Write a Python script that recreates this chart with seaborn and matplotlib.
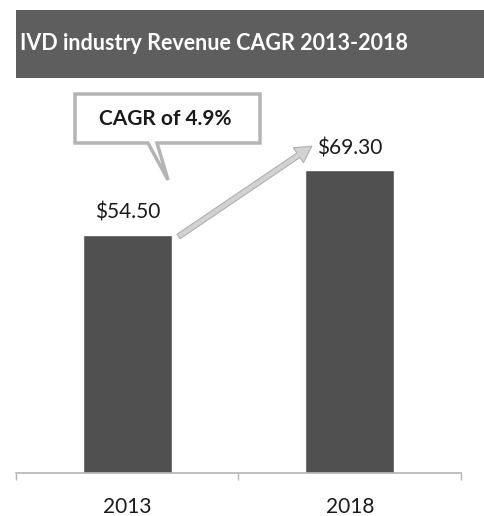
import matplotlib
matplotlib.use("Agg")
import matplotlib.pyplot as plt
import seaborn as sns
import pandas as pd
from matplotlib.patches import Rectangle, Polygon

# =========================
# DATA
# =========================
years = ["2013", "2018"]
revenue = [54.50, 69.30]
value_labels = ["$54.50", "$69.30"]
title_text = "IVD industry Revenue CAGR 2013-2018"
callout_text = "CAGR of 4.9%"

df = pd.DataFrame({"year": years, "revenue": revenue})

# =========================
# STYLE
# =========================
sns.set_theme(style="white")
plt.rcParams["font.family"] = ["Lato", "DejaVu Sans"]

BAR = "#505050"
BANNER = "#5e5e5e"
LIGHT = "#b4b4b4"

W, H = 485, 516
fig = plt.figure(figsize=(W / 100, H / 100), dpi=100)
ax = fig.add_axes([16 / W, 1 - 473 / H, (461 - 16) / W, (473 - 90) / H])

# =========================
# BARS
# =========================
sns.barplot(data=df, x="year", y="revenue", color=BAR, width=0.4,
            saturation=1, ax=ax)
ax.set_xlim(-0.5, 1.5)
ax.set_ylim(0, 87.7)

for i, (v, lab) in enumerate(zip(revenue, value_labels)):
    ax.annotate(lab, (i, v), xytext=(0, 22), textcoords="offset pixels",
                ha="center", va="center", fontsize=15, color="#1a1a1a")

# CAGR arrow from the 2013 bar towards the 2018 label
ax.annotate("", xy=(0.84, 75.2), xytext=(0.22, 53.8),
            arrowprops=dict(arrowstyle="simple,head_length=0.9,head_width=1.0,tail_width=0.3",
                            mutation_scale=13, facecolor="#d2d2d2",
                            edgecolor="#b0b0b0", lw=0.8))

# axis styling
sns.despine(ax=ax, left=True)
ax.spines["bottom"].set_color(LIGHT)
ax.spines["bottom"].set_linewidth(1.2)
ax.set_yticks([])
ax.set_xlabel("")
ax.set_ylabel("")
ax.set_xticks([-0.5, 0.5, 1.5], minor=True)
ax.tick_params(axis="x", which="major", length=0, pad=17, labelsize=15,
               labelcolor="#1a1a1a")
ax.tick_params(axis="x", which="minor", bottom=True, length=5, width=1,
               color=LIGHT)

# =========================
# TITLE BANNER
# =========================
fig.add_artist(Rectangle((16 / W, 1 - 78 / H), 1 - 16 / W, 68 / H,
                         transform=fig.transFigure, facecolor=BANNER,
                         edgecolor="none"))
fig.text(20 / W, 1 - 44 / H, title_text, color="white", fontsize=15.5,
         fontweight="bold", ha="left", va="center")

# =========================
# CALLOUT
# =========================
pts = [(75, 94), (260, 94), (260, 143), (157, 143), (168, 180),
       (148, 143), (75, 143)]
fig.add_artist(Polygon([(x / W, 1 - y / H) for x, y in pts], closed=True,
                       transform=fig.transFigure, facecolor="white",
                       edgecolor=LIGHT, lw=2.5))
fig.text(165 / W, 1 - 119 / H, callout_text, fontsize=15, fontweight="bold",
         color="#1a1a1a", ha="center", va="center")

plt.savefig("out.png", dpi=100)
plt.close()
